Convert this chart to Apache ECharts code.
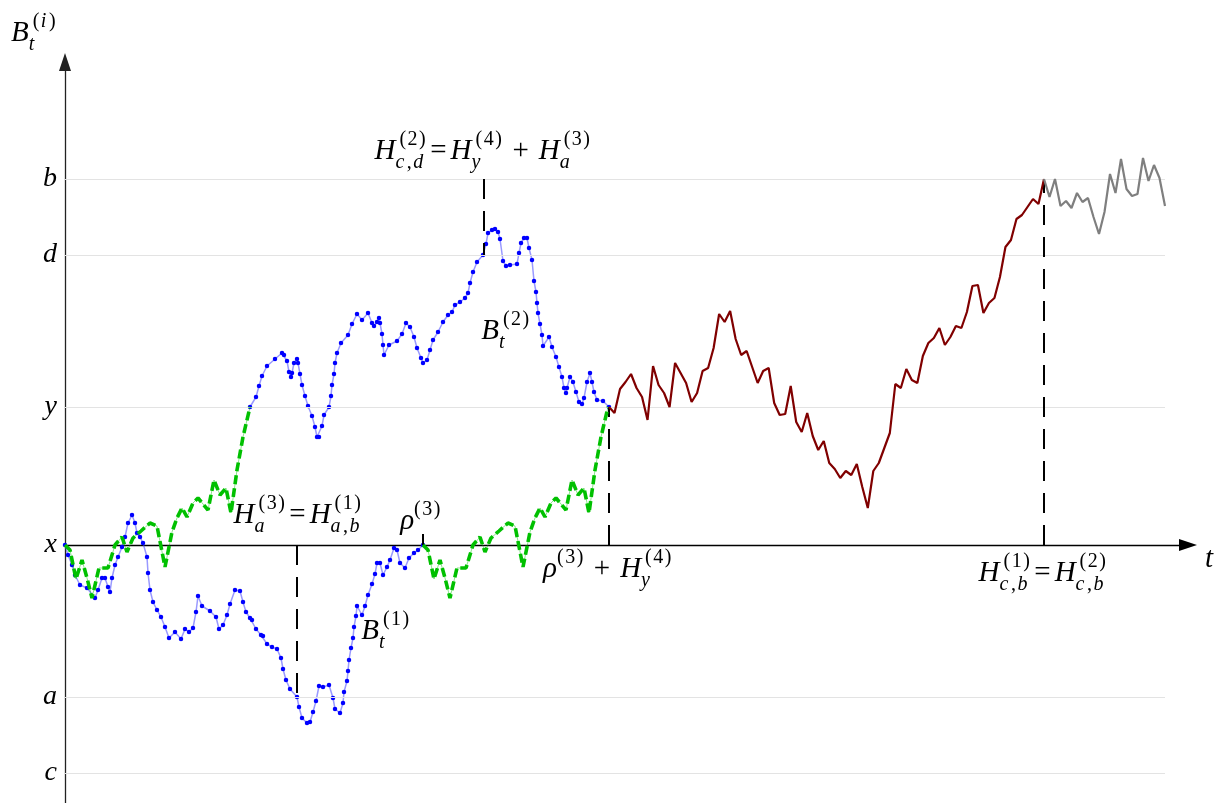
<!DOCTYPE html>
<html><head><meta charset="utf-8">
<script src="https://cdn.jsdelivr.net/npm/echarts@6/dist/echarts.min.js"></script>
<style>html,body{margin:0;padding:0;background:#fff}#main{width:1222px;height:803px}</style>
</head><body><div id="main"></div>
<script>
// Level names on the vertical axis and their values (units)
const levelNames = ['c', 'a', 'x', 'y', 'd', 'b'];
const levelValues = [-228, -152, 0, 138, 290, 366];
const gridLevels = [-228, -152, 138, 290, 366];
const gridEnd = 1100;

// H_y^(4) path (relative time, value), drawn twice (start times below)
const greenPath = [[0,0],[5,-5],[11,-34],[17,-15],[22,-33],[27,-53],[34,-23],[43,-23],[50,0],[57,8],[62,-7],[68,7],[76,14],[85,22],[92,19],[100,-22],[107,13],[112,27],[117,37],[122,28],[128,42],[133,47],[143,35],[149,65],[155,50],[161,57],[166,32],[172,75],[178,108],[185,138]];
const greenStarts = [0, 358];

// B_t^(1)
const blue1 = [[0,0],[3,-10],[7,-20],[10,-30],[15,-40],[22,-43],[30,-53],[33,-45],[37,-33],[40,-33],[43,-42],[45,-47],[47,-33],[50,-20],[53,-12],[57,-2],[60,8],[63,22],[67,30],[70,22],[72,12],[75,8],[78,2],[82,-12],[83,-28],[85,-45],[88,-57],[92,-65],[96,-72],[100,-82],[104,-93],[110,-87],[116,-94],[120,-84],[124,-87],[128,-83],[131,-67],[133,-51],[137,-61],[145,-66],[151,-72],[154,-84],[158,-80],[162,-70],[165,-59],[170,-45],[175,-46],[178,-57],[181,-67],[185,-73],[187,-75],[191,-84],[196,-90],[198,-91],[202,-99],[207,-102],[212,-104],[216,-113],[218,-124],[221,-135],[225,-144],[232,-152],[234,-162],[237,-173],[242,-178],[245,-177],[248,-167],[251,-156],[254,-141],[258,-142],[264,-140],[268,-153],[270,-164],[275,-168],[278,-158],[279,-147],[282,-136],[283,-126],[284,-115],[286,-103],[288,-93],[289,-82],[291,-71],[292,-61],[297,-70],[300,-61],[303,-50],[307,-39],[310,-29],[312,-18],[315,-18],[318,-30],[322,-22],[325,-15],[329,-3],[332,-5],[335,-18],[340,-23],[344,-13],[349,-8],[353,-5],[358,0]];

// B_t^(2)
const blue2 = [[185,138],[191,148],[194,159],[197,169],[202,179],[210,186],[217,192],[219,190],[222,184],[224,173],[226,168],[227,172],[229,182],[232,186],[233,182],[235,171],[237,160],[240,149],[243,139],[247,129],[250,118],[252,108],[254,108],[257,119],[259,130],[264,138],[266,149],[267,160],[269,171],[270,182],[272,192],[276,202],[283,210],[287,221],[292,231],[297,225],[303,232],[307,222],[309,219],[312,223],[314,227],[315,222],[317,211],[318,200],[319,190],[324,200],[332,204],[337,211],[341,222],[345,218],[349,208],[352,197],[356,187],[358,182],[362,185],[365,195],[368,205],[373,213],[378,223],[383,230],[387,233],[390,240],[395,243],[400,247],[403,252],[405,262],[408,273],[412,283],[418,290],[421,301],[423,312],[427,315],[430,316],[433,313],[435,306],[438,284],[441,279],[445,280],[452,281],[454,292],[456,302],[459,307],[462,307],[464,297],[467,285],[469,264],[471,253],[472,242],[473,232],[475,221],[477,210],[478,199],[484,208],[487,198],[491,188],[494,178],[497,168],[499,157],[501,152],[502,157],[505,168],[508,163],[511,153],[514,143],[517,141],[519,147],[522,163],[525,172],[527,163],[529,153],[532,145],[538,144],[544,138]];

// Continuation (dark red) and after-hit (gray), equally spaced in time
const redStart = 544, redEnd = 979;
const red = [138,132,156,163,171,157,148,125,179,160,152,138,182,172,162,143,152,174,177,197,231,223,234,206,190,194,178,162,174,177,142,130,131,159,123,113,132,109,95,104,82,76,67,74,70,81,58,37,74,82,97,112,161,157,176,165,162,189,202,207,217,200,208,219,217,233,259,260,232,242,247,268,298,305,326,330,338,346,341,366];
const grayStart = 979, grayEnd = 1100;
const gray = [366,348,366,339,344,337,352,343,347,328,311,333,371,352,386,356,349,351,387,364,380,367,339];

// Marked times
const tHa = 232, tRho = 358, tHcd = 419, tRhoH = 544, tHcb = 979;

function evenly(vals, t0, t1) {
  const dt = (t1 - t0) / (vals.length - 1);
  return vals.map((v, i) => [t0 + i * dt, v]);
}

const dashed = [20, 12];
const chart = echarts.init(document.getElementById('main'), null, {renderer: 'canvas'});

const series = [];
series.push({
  type: 'line', data: [], silent: true, z: 1,
  markLine: {
    silent: true, symbol: 'none', label: {show: false},
    lineStyle: {color: '#e3e3e3', width: 1, type: 'solid'},
    data: gridLevels.map(v => [{coord: [0, v]}, {coord: [gridEnd, v]}])
  }
});
[blue1, blue2].forEach(d => series.push({
  type: 'line', data: d, z: 3, showSymbol: true, showAllSymbol: true,
  symbol: 'circle', symbolSize: 4.5, silent: true, animation: false,
  itemStyle: {color: '#0000ff', borderWidth: 0},
  lineStyle: {color: 'rgba(70,70,255,0.55)', width: 1.5}
}));
greenStarts.forEach(s => {
  const d = greenPath.map(p => [p[0] + s, p[1]]);
  series.push({type: 'line', data: d, z: 4, showSymbol: false, silent: true, animation: false,
    lineStyle: {color: 'rgba(0,200,0,0.45)', width: 1}});
  series.push({type: 'line', data: d, z: 5, showSymbol: false, silent: true, animation: false,
    lineStyle: {color: '#00c000', width: 3.6, type: [9, 4]}});
});
series.push({type: 'line', data: evenly(red, redStart, redEnd), z: 5, showSymbol: false, silent: true, animation: false,
  lineStyle: {color: '#800000', width: 2.2}});
series.push({type: 'line', data: evenly(gray, grayStart, grayEnd), z: 5, showSymbol: false, silent: true, animation: false,
  lineStyle: {color: '#7f7f7f', width: 2.2}});
series.push({
  type: 'line', data: [], silent: true, z: 6,
  markLine: {
    silent: true, symbol: 'none', label: {show: false}, animation: false,
    lineStyle: {color: '#000', width: 2, type: dashed},
    data: [
      [{coord: [tHa, 0]}, {coord: [tHa, levelValues[1]]}],
      [{coord: [tHcd, levelValues[5]]}, {coord: [tHcd, levelValues[4]]}],
      [{coord: [tRhoH, 0]}, {coord: [tRhoH, levelValues[3]]}],
      [{coord: [tHcb, 0]}, {coord: [tHcb, levelValues[5]]}],
      [{coord: [tRho, 0], lineStyle: {type: 'solid'}}, {coord: [tRho, 11]}]
    ]
  }
});

const option = {
  animation: false,
  backgroundColor: '#fff',
  grid: {left: 65, right: 34, top: 62, bottom: 0},
  xAxis: {
    type: 'value', min: 0, max: 1123,
    axisLine: {show: true, onZero: true, symbol: ['none', 'triangle'], symbolSize: [12, 18],
      lineStyle: {color: '#000', width: 1.3}},
    axisTick: {show: false}, axisLabel: {show: false}, splitLine: {show: false}
  },
  yAxis: {
    type: 'value', min: -258, max: 483,
    axisLine: {show: true, onZero: false, symbol: ['none', 'triangle'], symbolSize: [12, 18],
      lineStyle: {color: '#222', width: 1.3}},
    axisTick: {show: false}, splitLine: {show: false},
    axisLabel: {
      show: true, customValues: levelValues, margin: 8,
      fontFamily: '"Liberation Serif", serif', fontStyle: 'italic', fontSize: 28, color: '#000',
      formatter: v => { const i = levelValues.indexOf(v); return i >= 0 ? levelNames[i] : ''; }
    }
  },
  series
};
chart.setOption(option);

// ---------- math-like labels ----------
const labels = [
  {tokens: ['B', {sub: 't', sup: '(i)'}], at: [-31, 503]},
  {tokens: ['t'], at: [1145, -23]},
  {tokens: ['H', {sub: 'a', sup: '(3)'}, {sp: 3}, '=', {sp: 3}, 'H', {sub: 'a,b', sup: '(1)'}], at: [233, 21]},
  {tokens: ['ρ', {sup: '(3)', dx: -4}], at: [356, 15]},
  {tokens: ['ρ', {sup: '(3)', dx: -4}, {sp: 9}, '+', {sp: 9}, 'H', {sub: 'y', sup: '(4)'}], at: [543, -33]},
  {tokens: ['H', {sub: 'c,d', sup: '(2)'}, {sp: 3}, '=', {sp: 3}, 'H', {sub: 'y', sup: '(4)'}, {sp: 9}, '+', {sp: 9}, 'H', {sub: 'a', sup: '(3)'}], at: [418, 385]},
  {tokens: ['B', {sub: 't', sup: '(2)'}], at: [441, 205]},
  {tokens: ['B', {sub: 't', sup: '(1)'}], at: [321, -95]},
  {tokens: ['H', {sub: 'c,b', sup: '(1)'}, {sp: 3}, '=', {sp: 3}, 'H', {sub: 'c,b', sup: '(2)'}], at: [978, -37]}
];
const MAIN = 29, SCRIPT = 20, SUP = 14, SUB = 9, ITAL = 2, TRACK_MAIN = 1, TRACK_SCRIPT = 1.5;
const FAM = '"Liberation Serif", serif';
const ctx = document.createElement('canvas').getContext('2d');
const isLetter = s => /[A-Za-zρ]/.test(s);
const fontOf = (size, it) => (it ? 'italic ' : '') + size + 'px ' + FAM;
function place(str, size, x, base, out) {
  const track = size === MAIN ? TRACK_MAIN : TRACK_SCRIPT;
  for (const ch of Array.from(str)) {
    const it = isLetter(ch);
    ctx.font = fontOf(size, it);
    const w = ctx.measureText(ch).width;
    out.push({text: ch, x, base, size, it});
    x += w + track + (it ? 1 : 0);
  }
  return x;
}
function build(def) {
  const items = [];
  let x = 0;
  for (const tk of def.tokens) {
    if (typeof tk === 'string') x = place(tk, MAIN, x, 0, items);
    else if (tk.sp != null) x += tk.sp;
    else {
      const dx = tk.dx || 0;
      let e1 = x, e2 = x;
      if (tk.sup) e1 = place(tk.sup, SCRIPT, x + ITAL + dx, -SUP, items);
      if (tk.sub) e2 = place(tk.sub, SCRIPT, x - 2 + dx, tk.sup ? SUB : SUB - 2, items);
      x = Math.max(e1, e2);
    }
  }
  const [cx, cy] = chart.convertToPixel({gridIndex: 0}, def.at);
  const left = cx - x / 2;
  return items.map(it => ({
    type: 'text', silent: true, z: 100,
    x: left + it.x, y: cy + it.base - 0.305 * it.size,
    style: {text: it.text, font: fontOf(it.size, it.it), fill: '#000',
      align: 'left', verticalAlign: 'middle', textAlign: 'left', textVerticalAlign: 'middle'}
  }));
}
const graphics = [];
labels.forEach(l => graphics.push(...build(l)));
chart.setOption({graphic: {elements: graphics}});
</script></body></html>
